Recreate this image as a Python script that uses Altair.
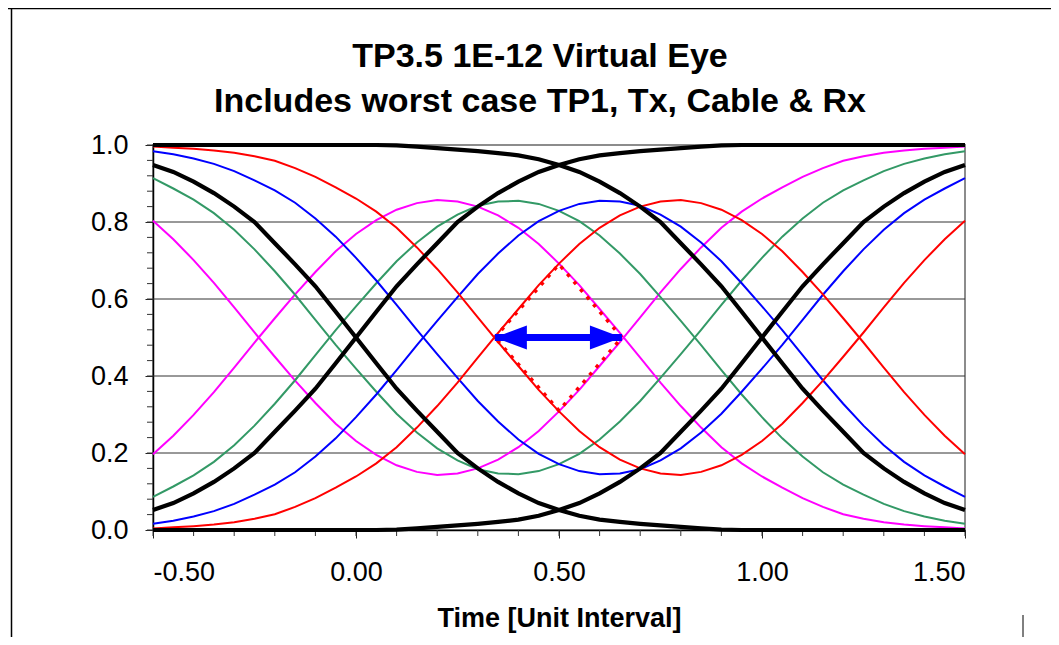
import altair as alt
import pandas as pd

FONT = "Liberation Sans"

# ---- time axis samples (unit intervals) ----
X = [-0.50, -0.45, -0.40, -0.35, -0.30, -0.25, -0.20, -0.15, -0.10, -0.05,
     0.00, 0.05, 0.10, 0.15, 0.20, 0.25, 0.30, 0.35, 0.40, 0.45,
     0.50, 0.55, 0.60, 0.65, 0.70, 0.75, 0.80, 0.85, 0.90, 0.95,
     1.00, 1.05, 1.10, 1.15, 1.20, 1.25, 1.30, 1.35, 1.40, 1.45, 1.50]

# ---- coloured traces ----
MAGENTA_LOW = [0.803, 0.755, 0.701, 0.642, 0.578, 0.513, 0.450, 0.388, 0.330, 0.276,
               0.231, 0.195, 0.168, 0.151, 0.143, 0.147, 0.160, 0.183, 0.215, 0.257,
               0.308, 0.364, 0.426, 0.488, 0.552, 0.617, 0.678, 0.734, 0.785, 0.827,
               0.861, 0.890, 0.917, 0.940, 0.959, 0.971, 0.980, 0.986, 0.990, 0.993, 0.996]
MAGENTA_HIGH = [0.197, 0.245, 0.299, 0.358, 0.422, 0.487, 0.550, 0.612, 0.670, 0.724,
                0.769, 0.805, 0.832, 0.849, 0.857, 0.853, 0.840, 0.817, 0.785, 0.743,
                0.692, 0.636, 0.574, 0.512, 0.448, 0.383, 0.322, 0.266, 0.215, 0.173,
                0.139, 0.110, 0.083, 0.060, 0.041, 0.029, 0.020, 0.014, 0.010, 0.007, 0.004]
GREEN_LOW = [0.914, 0.887, 0.858, 0.823, 0.780, 0.729, 0.672, 0.611, 0.546, 0.481,
             0.419, 0.359, 0.302, 0.253, 0.212, 0.181, 0.158, 0.147, 0.145, 0.153,
             0.171, 0.198, 0.235, 0.282, 0.335, 0.395, 0.457, 0.520, 0.585, 0.648,
             0.707, 0.762, 0.809, 0.850, 0.882, 0.908, 0.932, 0.951, 0.965, 0.976, 0.984]
GREEN_HIGH = [0.086, 0.113, 0.142, 0.177, 0.220, 0.271, 0.328, 0.389, 0.454, 0.519,
              0.581, 0.641, 0.698, 0.747, 0.788, 0.819, 0.842, 0.853, 0.855, 0.847,
              0.829, 0.802, 0.765, 0.718, 0.665, 0.605, 0.543, 0.480, 0.415, 0.352,
              0.293, 0.238, 0.191, 0.150, 0.118, 0.092, 0.068, 0.049, 0.035, 0.024, 0.016]
BLUE_LOW = [0.984, 0.976, 0.965, 0.951, 0.932, 0.908, 0.882, 0.850, 0.809, 0.762,
            0.707, 0.648, 0.585, 0.520, 0.457, 0.395, 0.335, 0.282, 0.235, 0.198,
            0.171, 0.153, 0.145, 0.147, 0.158, 0.181, 0.212, 0.253, 0.302, 0.359,
            0.419, 0.481, 0.546, 0.611, 0.672, 0.729, 0.780, 0.823, 0.858, 0.887, 0.914]
BLUE_HIGH = [0.016, 0.024, 0.035, 0.049, 0.068, 0.092, 0.118, 0.150, 0.191, 0.238,
             0.293, 0.352, 0.415, 0.480, 0.543, 0.605, 0.665, 0.718, 0.765, 0.802,
             0.829, 0.847, 0.855, 0.853, 0.842, 0.819, 0.788, 0.747, 0.698, 0.641,
             0.581, 0.519, 0.454, 0.389, 0.328, 0.271, 0.220, 0.177, 0.142, 0.113, 0.086]
RED_LOW = [0.996, 0.993, 0.990, 0.986, 0.980, 0.971, 0.959, 0.940, 0.917, 0.890,
           0.861, 0.827, 0.785, 0.734, 0.678, 0.617, 0.552, 0.488, 0.426, 0.364,
           0.308, 0.257, 0.215, 0.183, 0.160, 0.147, 0.143, 0.151, 0.168, 0.195,
           0.231, 0.276, 0.330, 0.388, 0.450, 0.513, 0.578, 0.642, 0.701, 0.755, 0.803]
RED_HIGH = [0.004, 0.007, 0.010, 0.014, 0.020, 0.029, 0.041, 0.060, 0.083, 0.110,
            0.139, 0.173, 0.215, 0.266, 0.322, 0.383, 0.448, 0.512, 0.574, 0.636,
            0.692, 0.743, 0.785, 0.817, 0.840, 0.853, 0.857, 0.849, 0.832, 0.805,
            0.769, 0.724, 0.670, 0.612, 0.550, 0.487, 0.422, 0.358, 0.299, 0.245, 0.197]

# ---- heavy black reference transitions ----
BLACK_RISE_0 = [0.052, 0.070, 0.095, 0.125, 0.160, 0.200, 0.255, 0.310, 0.367, 0.433,
                0.500, 0.567, 0.633, 0.690, 0.745, 0.800, 0.840, 0.875, 0.905, 0.930,
                0.948, 0.963, 0.973, 0.979, 0.984, 0.988, 0.992, 0.996, 0.999, 1.000,
                1.000, 1.000, 1.000, 1.000, 1.000, 1.000, 1.000, 1.000, 1.000, 1.000, 1.000]
BLACK_FALL_0 = [0.948, 0.930, 0.905, 0.875, 0.840, 0.800, 0.745, 0.690, 0.633, 0.567,
                0.500, 0.433, 0.367, 0.310, 0.255, 0.200, 0.160, 0.125, 0.095, 0.070,
                0.052, 0.037, 0.027, 0.021, 0.016, 0.012, 0.008, 0.004, 0.001, 0.000,
                0.000, 0.000, 0.000, 0.000, 0.000, 0.000, 0.000, 0.000, 0.000, 0.000, 0.000]
BLACK_RISE_1 = [0.000, 0.000, 0.000, 0.000, 0.000, 0.000, 0.000, 0.000, 0.000, 0.000,
                0.000, 0.000, 0.001, 0.004, 0.008, 0.012, 0.016, 0.021, 0.027, 0.037,
                0.052, 0.070, 0.095, 0.125, 0.160, 0.200, 0.255, 0.310, 0.367, 0.433,
                0.500, 0.567, 0.633, 0.690, 0.745, 0.800, 0.840, 0.875, 0.905, 0.930, 0.948]
BLACK_FALL_1 = [1.000, 1.000, 1.000, 1.000, 1.000, 1.000, 1.000, 1.000, 1.000, 1.000,
                1.000, 1.000, 0.999, 0.996, 0.992, 0.988, 0.984, 0.979, 0.973, 0.963,
                0.948, 0.930, 0.905, 0.875, 0.840, 0.800, 0.745, 0.690, 0.633, 0.567,
                0.500, 0.433, 0.367, 0.310, 0.255, 0.200, 0.160, 0.125, 0.095, 0.070, 0.052]

# ---- eye mask (dotted) and eye-width arrow ----
MASK_X = [0.342, 0.500, 0.655, 0.500, 0.342]
MASK_Y = [0.500, 0.690, 0.500, 0.310, 0.500]
ARROW_X = [0.342, 0.655]
ARROW_Y = 0.5

# ---- axes ----
X_TICKS = [-0.5, 0.0, 0.5, 1.0, 1.5]
X_MINOR = [-0.5, -0.4, -0.3, -0.2, -0.1, 0.0, 0.1, 0.2, 0.3, 0.4, 0.5,
           0.6, 0.7, 0.8, 0.9, 1.0, 1.1, 1.2, 1.3, 1.4, 1.5]
Y_TICKS = [0.0, 0.2, 0.4, 0.6, 0.8, 1.0]
Y_MINOR = [0.0, 0.04, 0.08, 0.12, 0.16, 0.2, 0.24, 0.28, 0.32, 0.36, 0.4, 0.44, 0.48,
           0.52, 0.56, 0.6, 0.64, 0.68, 0.72, 0.76, 0.8, 0.84, 0.88, 0.92, 0.96, 1.0]
GRID_Y = [0.2, 0.4, 0.6, 0.8]

TITLE_LINES = ["TP3.5 1E-12 Virtual Eye", "Includes worst case TP1, Tx, Cable & Rx"]
X_TITLE = "Time [Unit Interval]"

COLOR_SERIES = [("magenta_low", MAGENTA_LOW, "#FF00FF"), ("magenta_high", MAGENTA_HIGH, "#FF00FF"),
                ("green_low", GREEN_LOW, "#339966"), ("green_high", GREEN_HIGH, "#339966"),
                ("blue_low", BLUE_LOW, "#0000FF"), ("blue_high", BLUE_HIGH, "#0000FF"),
                ("red_low", RED_LOW, "#FF0000"), ("red_high", RED_HIGH, "#FF0000")]
BLACK_SERIES = [("rise0", BLACK_RISE_0), ("fall0", BLACK_FALL_0),
                ("rise1", BLACK_RISE_1), ("fall1", BLACK_FALL_1)]

W, H = 812, 385

color_rows = [{"x": xv, "y": yv, "series": name}
              for name, ys, _ in COLOR_SERIES for xv, yv in zip(X, ys)]
black_rows = [{"x": xv, "y": yv, "series": name}
              for name, ys in BLACK_SERIES for xv, yv in zip(X, ys)]
color_df = pd.DataFrame(color_rows)
black_df = pd.DataFrame(black_rows)
mask_df = pd.DataFrame({"idx": list(range(len(MASK_X))), "x": MASK_X, "y": MASK_Y})
shaft_df = pd.DataFrame({"x": [ARROW_X[0]], "x2": [ARROW_X[1]], "y": [ARROW_Y]})
head_df = pd.DataFrame({"x": ARROW_X, "y": [ARROW_Y, ARROW_Y], "side": ["L", "R"]})
xminor_df = pd.DataFrame({"x": X_MINOR})
yminor_df = pd.DataFrame({"y": Y_MINOR})
grid_df = pd.DataFrame({"y": GRID_Y})
one = alt.Data(values=[{"k": 1}])

x_scale = alt.Scale(domain=[-0.5, 1.5], nice=False, zero=False)
y_scale = alt.Scale(domain=[0, 1], nice=False, zero=False)
x_axis = alt.Axis(values=X_TICKS, title=X_TITLE, grid=False,
                  labelExpr="datum.value < 0 ? '-' + format(-datum.value, '.2f') : format(datum.value, '.2f')",
                  tickSize=8, labelPadding=21, titleY=96, titleBaseline="alphabetic")
y_axis = alt.Axis(values=Y_TICKS, format=".1f", title=None, grid=False,
                  tickSize=8, labelPadding=17)


def xenc(field="x"):
    return alt.X(f"{field}:Q", scale=x_scale, axis=x_axis)


def yenc(field="y"):
    return alt.Y(f"{field}:Q", scale=y_scale, axis=y_axis)


grid = alt.Chart(grid_df).mark_rule(color="#333333", strokeWidth=1).encode(y=yenc())

xminor = alt.Chart(xminor_df).mark_rule(color="#333333", strokeWidth=1).encode(
    x=xenc(), y=alt.value(H), y2=alt.value(H + 6))
yminor = alt.Chart(yminor_df).mark_rule(color="#333333", strokeWidth=1).encode(
    y=yenc(), x=alt.value(-6), x2=alt.value(0))

colored = alt.Chart(color_df).mark_line(strokeWidth=2, clip=False).encode(
    x=xenc(), y=yenc(),
    color=alt.Color("series:N",
                    scale=alt.Scale(domain=[s[0] for s in COLOR_SERIES],
                                    range=[s[2] for s in COLOR_SERIES]),
                    legend=None))

black = alt.Chart(black_df).mark_line(strokeWidth=4.2, color="black", clip=False).encode(
    x=xenc(), y=yenc(), detail="series:N")

mask = alt.Chart(mask_df).mark_line(color="#FF0000", strokeWidth=3.5,
                                    strokeDash=[3.5, 6.5], strokeCap="butt").encode(
    x=xenc(), y=yenc(), order=alt.Order("idx:Q"))

shaft = alt.Chart(shaft_df).mark_rule(color="#0000FF", strokeWidth=7).encode(
    x=xenc(), x2="x2:Q", y=yenc())

heads = alt.Chart(head_df).mark_point(filled=True, opacity=1, size=1024,
                                      color="#0000FF", strokeWidth=0).encode(
    x=xenc(), y=yenc(),
    shape=alt.Shape("side:N",
                    scale=alt.Scale(domain=["L", "R"],
                                    range=["M0,0L2,-0.75L2,0.75Z", "M0,0L-2,-0.75L-2,0.75Z"]),
                    legend=None))

# outer chart frame (decoration)
frame_left = alt.Chart(one).mark_rule(color="black", strokeWidth=1.5).encode(
    x=alt.value(-141.5), y=alt.value(-137), y2=alt.value(H + 107))
frame_top = alt.Chart(one).mark_rule(color="black", strokeWidth=1.5).encode(
    y=alt.value(-136.5), x=alt.value(-145), x2=alt.value(W + 86))
frame_right = alt.Chart(one).mark_rule(color="black", strokeWidth=1).encode(
    x=alt.value(870), y=alt.value(470), y2=alt.value(H + 107))

chart = alt.layer(
    grid, xminor, yminor, colored, black, mask, shaft, heads,
    frame_left, frame_top, frame_right
).properties(
    width=W, height=H,
    autosize=alt.AutoSizeParams(type="none"),
    padding={"left": 145, "top": 137, "right": 86, "bottom": 107},
    title=alt.TitleParams(text=TITLE_LINES, font=FONT, fontSize=34, fontWeight="bold",
                          color="black", anchor="middle", dx=-19, dy=32, offset=-80,
                          lineHeight=45, baseline="top"),
).configure_view(
    stroke="#8c8c8c", strokeWidth=2
).configure_axis(
    labelFont=FONT, labelFontSize=27, labelColor="black",
    titleFont=FONT, titleFontSize=27, titleFontWeight="bold", titleColor="black",
    tickColor="#222222", tickWidth=1, domainColor="black", domainWidth=1.5,
)

chart.save("out.html", embed_options={"renderer": "svg", "actions": False})
